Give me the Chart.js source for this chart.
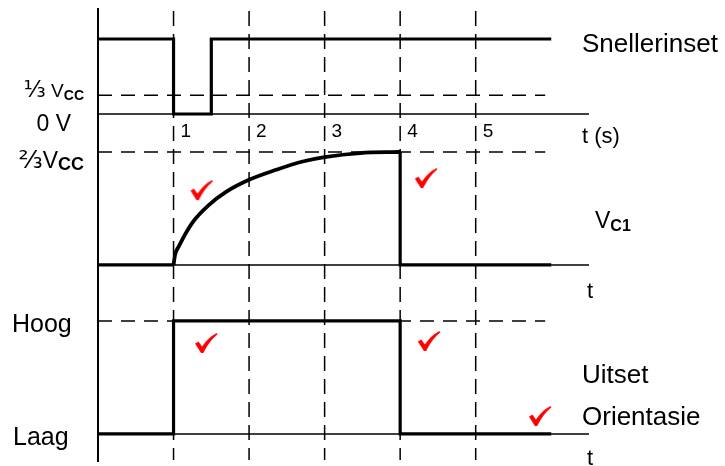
<!DOCTYPE html>
<html>
<head>
<meta charset="utf-8">
<script src="https://cdn.jsdelivr.net/npm/chart.js@4.4.1/dist/chart.umd.min.js"></script>
<style>
  html, body { margin: 0; padding: 0; background: #fff; }
  #wrap { position: relative; width: 725px; height: 466px; }
</style>
</head>
<body>
<div id="wrap"><canvas id="timing" width="725" height="466"></canvas></div>
<script>
// time grid (s)
const tickTimes = [1, 2, 3, 4, 5];
const tickLabels = ['1', '2', '3', '4', '5'];
const signalEnd = 6;     // signals stop here
const axisEnd = 6.5;     // thin time axes stop here
const guideEnd = 5.92;   // dashed level lines stop here

// Snellerinset (trigger), high level = 1
const trigTime  = [0, 1, 1, 1.5, 1.5, 6];
const trigLevel = [1, 1, 0, 0, 1, 1];
const trigThreshold = 0.25;   // the "1/3 Vcc" line as drawn

// V_C1, in Vcc
const capTime  = [1, 1.02, 1.07, 1.25, 1.47, 1.7, 2, 2.36, 2.71, 3, 3.47, 4];
const capValue = [0, 0.06, 0.11, 0.25, 0.355, 0.433, 0.503, 0.562, 0.611, 0.637, 0.661, 0.667];
const capThreshold = 2 / 3;

// Uitset: 0 = Laag, 1 = Hoog
const outTime  = [0, 1, 1, 4, 4, 6];
const outLevel = [0, 0, 1, 1, 0, 0];

// red ticks (marker's marks)
const markTimeB  = [1.37, 4.34];
const markValueB = [0.442, 0.513];
const markTimeC  = [1.43, 4.38, 5.85];
const markValueC = [0.805, 0.823, 0.159];

const FONT = '"Liberation Sans", Arial, sans-serif';
const FRAC_FONT = '"DejaVu Sans", sans-serif';

function pts(xs, ys) {
    return xs.map((x, i) => ({ x: x, y: ys[i] }));
}

function levelLine(y, end) {
    return [{ x: 0, y: y }, { x: end, y: y }];
}

// red check mark used as point style
function makeTick() {
    const c = document.createElement('canvas');
    c.width = 24; c.height = 22;
    const g = c.getContext('2d');
    g.fillStyle = '#ff0000';
    g.beginPath();
    g.moveTo(1, 11.5);
    g.lineTo(4.5, 9.5);
    g.lineTo(8, 14.5);
    g.quadraticCurveTo(14, 5.5, 22.5, 1);
    g.lineTo(23.5, 2.2);
    g.quadraticCurveTo(15, 9, 9.2, 21);
    g.lineTo(7, 21);
    g.closePath();
    g.fill();
    return c;
}
const tickImg = makeTick();

const thick = { borderColor: '#000', borderWidth: 3.2, pointRadius: 0, fill: false,
                borderJoinStyle: 'miter', borderCapStyle: 'butt', order: 1 };
const thin = { borderColor: '#000', borderWidth: 1.5, pointRadius: 0, fill: false, order: 2 };
const dashed = { borderColor: '#000', borderWidth: 1.5, pointRadius: 0, fill: false,
                 borderDash: [14, 9], order: 3 };
const mark = { showLine: false, pointStyle: tickImg, pointRadius: 10, order: 0 };

// V_C1 flat parts and the drop at t = 4
const capSteps = [{ x: 0, y: 0 }, { x: 1, y: 0 }, { x: 1, y: null },
                  { x: 4, y: capValue[capValue.length - 1] }, { x: 4, y: 0 }, { x: signalEnd, y: 0 }];

const datasets = [
    Object.assign({ yAxisID: 'yA', data: levelLine(0, axisEnd) }, thin),
    Object.assign({ yAxisID: 'yA', data: levelLine(trigThreshold, guideEnd) }, dashed),
    Object.assign({ yAxisID: 'yA', data: pts(trigTime, trigLevel) }, thick),

    Object.assign({ yAxisID: 'yB', data: levelLine(0, axisEnd) }, thin),
    Object.assign({ yAxisID: 'yB', data: levelLine(capThreshold, guideEnd) }, dashed),
    Object.assign({ yAxisID: 'yB', data: pts(capTime, capValue), cubicInterpolationMode: 'monotone' },
                  thick, { borderWidth: 3.8 }),
    Object.assign({ yAxisID: 'yB', data: capSteps, spanGaps: false }, thick),

    Object.assign({ yAxisID: 'yC', data: levelLine(0, axisEnd) }, thin),
    Object.assign({ yAxisID: 'yC', data: levelLine(1, guideEnd) }, dashed),
    Object.assign({ yAxisID: 'yC', data: pts(outTime, outLevel) }, thick),

    Object.assign({ yAxisID: 'yB', data: pts(markTimeB, markValueB) }, mark),
    Object.assign({ yAxisID: 'yC', data: pts(markTimeC, markValueC) }, mark)
];

// draws pieces [text, font, dy] one after another, aligned left or right at x
function pieces(ctx, x, y, parts, align) {
    ctx.textAlign = 'left';
    let total = 0;
    const widths = parts.map(p => {
        ctx.font = p[1];
        const w = ctx.measureText(p[0]).width;
        total += w;
        return w;
    });
    let left = align === 'right' ? x - total : x;
    parts.forEach((p, i) => {
        ctx.font = p[1];
        ctx.fillText(p[0], left, y + (p[2] || 0));
        left += widths[i];
    });
}

function plain(ctx, x, y, txt, size, align) {
    ctx.font = size + 'px ' + FONT;
    ctx.textAlign = align || 'left';
    ctx.fillText(txt, x, y);
}

const timingDecor = {
    id: 'timingDecor',
    beforeDatasetsDraw(chart) {
        const { ctx, chartArea, scales } = chart;
        const x = scales.x;
        ctx.save();
        ctx.strokeStyle = '#000';
        ctx.lineWidth = 1.5;
        ctx.setLineDash([15, 8]);
        tickTimes.forEach(t => {
            const px = x.getPixelForValue(t);
            ctx.beginPath();
            ctx.moveTo(px, chartArea.top + 3);
            ctx.lineTo(px, chartArea.bottom - 2);
            ctx.stroke();
        });
        ctx.setLineDash([]);
        ctx.lineWidth = 2;
        const x0 = x.getPixelForValue(0);
        ctx.beginPath();
        ctx.moveTo(x0, chartArea.top);
        ctx.lineTo(x0, chartArea.bottom);
        ctx.stroke();
        ctx.restore();
    },
    afterDraw(chart) {
        const { ctx, scales } = chart;
        const { x, yA, yB, yC } = scales;
        const right = x.getPixelForValue(axisEnd) - 7;
        ctx.save();
        ctx.fillStyle = '#000';
        ctx.textBaseline = 'alphabetic';

        // time tick labels under the top axis
        const tickY = yA.getPixelForValue(0) + 23;
        tickTimes.forEach((t, i) => plain(ctx, x.getPixelForValue(t) + 7, tickY, tickLabels[i], 19));

        // left level labels
        pieces(ctx, 84, yA.getPixelForValue(trigThreshold) + 2, [
            ['\u2153', '23px ' + FRAC_FONT],
            [' V', '19px ' + FONT],
            ['CC', 'bold 14px ' + FONT, 3]
        ], 'right');
        plain(ctx, 71, yA.getPixelForValue(0) + 17, '0 V', 23, 'right');
        pieces(ctx, 84, yB.getPixelForValue(capThreshold) + 16, [
            ['\u2154', '25px ' + FRAC_FONT],
            ['V', '23px ' + FONT],
            ['CC', 'bold 18px ' + FONT, 2]
        ], 'right');
        plain(ctx, 12, yC.getPixelForValue(1) + 11, 'Hoog', 25);
        plain(ctx, 13, yC.getPixelForValue(0) + 11, 'Laag', 25);

        // right-hand names
        plain(ctx, right, yA.getPixelForValue(1) + 13, 'Snellerinset', 26);
        plain(ctx, right, yA.getPixelForValue(0) + 29, 't (s)', 22);
        pieces(ctx, right + 13, yB.getPixelForValue(0) - 37, [
            ['V', '23px ' + FONT],
            ['C1', 'bold 16px ' + FONT, 3]
        ], 'left');
        plain(ctx, right + 5, yB.getPixelForValue(0) + 33, 't', 22);
        plain(ctx, right, yC.getPixelForValue(0) - 51, 'Uitset', 26);
        plain(ctx, right, yC.getPixelForValue(0) - 9, 'Orientasie', 26);
        plain(ctx, right + 5, yC.getPixelForValue(0) + 31, 't', 22);
        ctx.restore();
    }
};

new Chart(document.getElementById('timing'), {
    type: 'line',
    data: { datasets: datasets },
    options: {
        responsive: false,
        animation: false,
        layout: { autoPadding: false, padding: { left: 98, right: 136, top: 8, bottom: 4 } },
        plugins: { legend: { display: false }, tooltip: { enabled: false } },
        scales: {
            x: { type: 'linear', min: 0, max: axisEnd, display: false },
            yA: { type: 'linear', position: 'left', stack: 'panels', stackWeight: 122, weight: 3,
                  min: -0.213, max: 1.413, display: false },
            yB: { type: 'linear', position: 'left', stack: 'panels', stackWeight: 160, weight: 2,
                  min: -0.148, max: 0.797, display: false },
            yC: { type: 'linear', position: 'left', stack: 'panels', stackWeight: 172, weight: 1,
                  min: -0.248, max: 1.274, display: false }
        }
    },
    plugins: [timingDecor]
});
</script>
</body>
</html>
